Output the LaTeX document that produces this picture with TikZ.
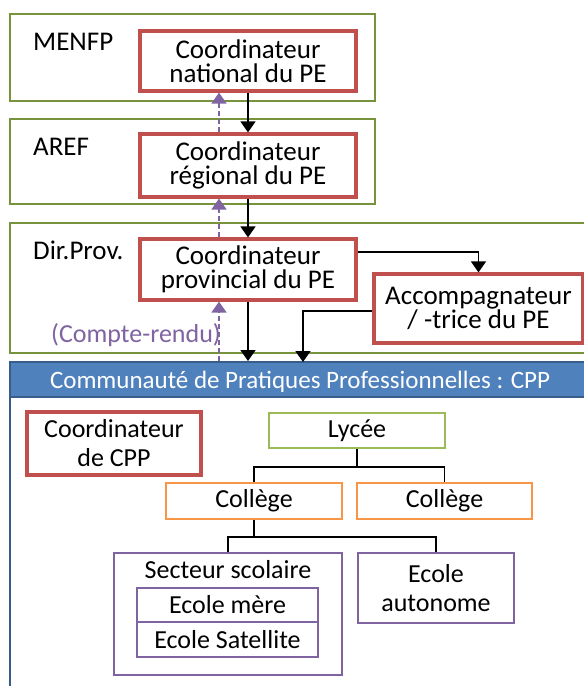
\documentclass[tikz,border=0pt]{standalone}
\usepackage{fontspec}
\setmainfont{Carlito}
\usetikzlibrary{arrows.meta,calc}
\definecolor{cred}{HTML}{C0504D}
\definecolor{colive}{HTML}{77933C}
\definecolor{clgreen}{HTML}{9BBB59}
\definecolor{corange}{HTML}{F79646}
\definecolor{cpurple}{HTML}{8064A2}
\definecolor{cblue}{HTML}{4F81BD}
\definecolor{cdblue}{HTML}{385D8A}
\tikzset{
  levelbox/.style={draw=colive,line width=1.6pt,fill=white,inner sep=0pt},
  redbox/.style={draw=cred,line width=3.2pt,fill=white,inner sep=0pt,align=center,font=\fontsize{27}{24.5}\selectfont},
  lowbox/.style={line width=1.7pt,fill=white,inner sep=0pt,align=center,font=\fontsize{26}{29}\selectfont},
  lvllabel/.style={anchor=base west,inner sep=0pt,font=\fontsize{27}{27}\selectfont},
  flow/.style={line width=1.5pt,-{Triangle[width=15pt,length=11pt]}},
  report/.style={cpurple,line width=1.5pt,dash pattern=on 5pt off 3pt,-{Triangle[width=15pt,length=11pt]}},
  tree/.style={line width=1.7pt},
}
\begin{document}
\begin{tikzpicture}[x=1pt,y=-1pt]
\useasboundingbox (0,0) rectangle (584,686);
\clip (0,0) rectangle (584,686);
% level frames
\node[levelbox,minimum width=365pt,minimum height=87pt] (menfp) at (192.5,57.5) {};
\node[levelbox,minimum width=365pt,minimum height=85pt] (aref) at (192.5,161.5) {};
\node[levelbox,minimum width=600pt,minimum height=130pt] (dirprov) at (310,288) {};
\node[lvllabel] (menfpl) at (33,50) {MENFP};
\node[lvllabel] (arefl) at (33,155) {AREF};
\node[lvllabel] (dirprovl) at (33,259) {Dir.Prov.};
% coordinators
\node[redbox,minimum width=216pt,minimum height=60pt] (nat) at (248,61) {Coordinateur\\national du PE};
\node[redbox,minimum width=216pt,minimum height=63pt] (reg) at (248,165.5) {Coordinateur\\régional du PE};
\node[redbox,minimum width=216pt,minimum height=61pt] (prov) at (248,269.5) {Coordinateur\\provincial du PE};
\node[redbox,minimum width=209pt,minimum height=69pt] (acc) at (478.5,308.5) {Accompagnateur\\/ -trice du PE};
% CPP frame and title bar
\node[draw=cdblue,line width=1.8pt,minimum width=600pt,minimum height=360pt,inner sep=0pt] (cpp) at (310,542) {};
\node[draw=cdblue,fill=cblue,line width=2pt,minimum width=600pt,minimum height=35pt,inner sep=0pt] (bar) at (310,379.5) {};
\node[anchor=base,inner sep=0pt,text=white,font=\fontsize{25}{25}\selectfont] (title) at (300,388) {Communauté de Pratiques Professionnelles : CPP};
\node[text=cpurple,anchor=base west,inner sep=0pt,font=\fontsize{26}{26}\selectfont] (cr) at (51,342) {(Compte-rendu)};
% connectors top
\draw[flow] (nat.south) -- (reg.north);
\draw[flow] (reg.south) -- (prov.north);
\draw[report] ([xshift=-29pt]reg.north) -- ([xshift=-29pt]nat.south);
\draw[report] ([xshift=-29pt]reg.south |- bar.north) -- ([xshift=-29pt]prov.south);
\draw[report] ([xshift=-29pt]prov.north) -- ([xshift=-29pt]reg.south);
\draw[flow] ([yshift=17.5pt]prov.east) -| (acc.north);
\draw[flow] (prov.south) -- (prov.south |- bar.north);
\coordinate (accin) at (303,362);
\draw[flow] ([yshift=-2.5pt]acc.west) -| (accin);
% CPP content
\node[redbox,font=\fontsize{26}{29}\selectfont,minimum width=174pt,minimum height=63pt] (ccpp) at (114,443.5) {Coordinateur\\de CPP};
\node[lowbox,draw=clgreen,minimum width=176pt,minimum height=35pt] (lycee) at (357,430.5) {Lycée};
\node[lowbox,draw=corange,minimum width=176pt,minimum height=36pt] (col1) at (254,501) {Collège};
\node[lowbox,draw=corange,minimum width=175pt,minimum height=36pt] (col2) at (444.5,501) {Collège};
\node[lowbox,draw=cpurple,minimum width=228pt,minimum height=122pt] (sect) at (228,614) {};
\node[anchor=base,inner sep=0pt,font=\fontsize{26}{29}\selectfont] (sectl) at (228,578) {Secteur scolaire};
\node[lowbox,draw=cpurple,minimum width=181pt,minimum height=34pt] (mere) at (227.5,605) {Ecole mère};
\node[lowbox,draw=cpurple,minimum width=181pt,minimum height=35pt] (sat) at (227.5,639.5) {Ecole Satellite};
\node[lowbox,draw=cpurple,minimum width=156pt,minimum height=70pt] (auto) at (436,588) {Ecole\\autonome};
\draw[tree] (lycee.south) -- ++(0,18) -| (col1.north);
\draw[tree] (lycee.south) -- ++(0,18) -| (col2.north);
\draw[tree] (col1.south) -- ++(0,17) -| (sect.north);
\draw[tree] (col1.south) -- ++(0,17) -| (auto.north);
\end{tikzpicture}
\end{document}
